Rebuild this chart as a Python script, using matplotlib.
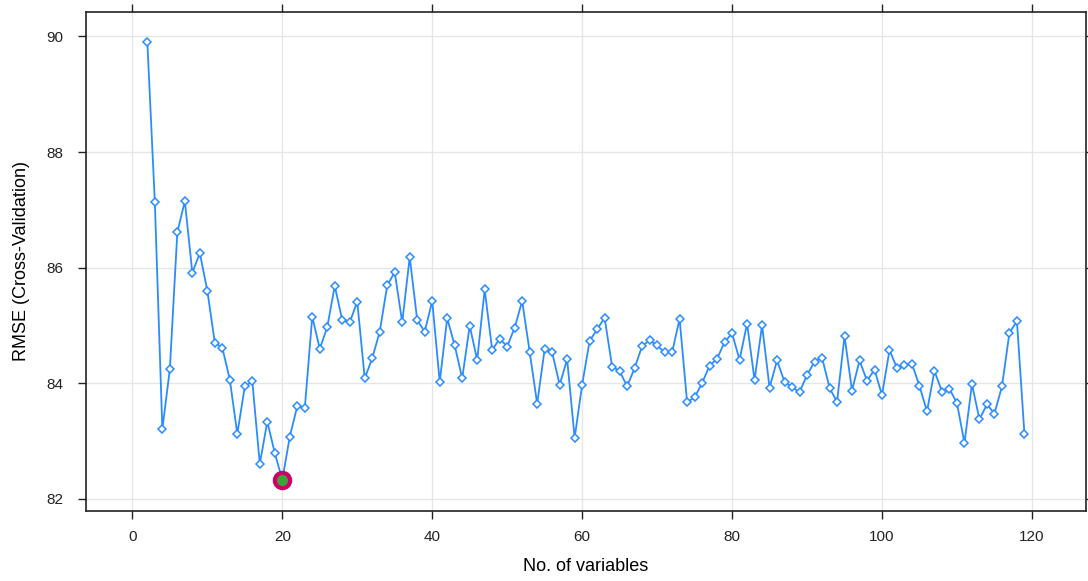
import numpy as np
import matplotlib
matplotlib.use("Agg")
import matplotlib.pyplot as plt

plt.rcParams['font.family'] = ['Liberation Sans', 'DejaVu Sans']

# number of variables and cross-validated RMSE
n_vars = list(range(2, 120))
rmse = [
    89.90, 87.13, 83.20, 84.24, 86.61, 87.15, 85.91, 86.25, 85.60,   # 2-10
    84.70, 84.61, 84.06, 83.12, 83.94, 84.03, 82.60, 83.33, 82.79, 82.32,  # 11-20
    83.07, 83.60, 83.56, 85.15, 84.59, 84.97, 85.68, 85.09, 85.05, 85.41,  # 21-30
    84.08, 84.43, 84.89, 85.69, 85.92, 85.05, 86.18, 85.09, 84.89, 85.42,  # 31-40
    84.02, 85.12, 84.65, 84.08, 84.99, 84.40, 85.62, 84.57, 84.77, 84.63,  # 41-50
    84.96, 85.42, 84.54, 83.64, 84.59, 84.53, 83.97, 84.41, 83.05, 83.97,  # 51-60
    84.73, 84.93, 85.13, 84.28, 84.21, 83.94, 84.26, 84.64, 84.74, 84.65,  # 61-70
    84.53, 84.53, 85.11, 83.67, 83.75, 84.00, 84.30, 84.42, 84.71, 84.86,  # 71-80
    84.40, 85.03, 84.05, 85.00, 83.92, 84.39, 84.02, 83.93, 83.84, 84.14,  # 81-90
    84.37, 84.44, 83.92, 83.67, 84.81, 83.87, 84.39, 84.04, 84.23, 83.79,  # 91-100
    84.57, 84.26, 84.32, 84.33, 83.95, 83.51, 84.21, 83.85, 83.90, 83.65,  # 101-110
    82.96, 83.98, 83.37, 83.63, 83.47, 83.94, 84.87, 85.07, 83.12,         # 111-119
]
x_ticks = [0, 20, 40, 60, 80, 100, 120]
y_ticks = [82, 84, 86, 88, 90]

best = int(np.argmin(rmse))

fig = plt.figure(figsize=(10.88, 5.81), dpi=100)
ax = fig.add_axes([0.079, 0.121, 0.919, 0.859])

ax.plot(n_vars, rmse, color='#2b8cff', lw=1.3, marker='D', ms=4.2,
        mfc='white', mec='#2b8cff', mew=1.1, zorder=3)
ax.plot(n_vars[best], rmse[best], 'o', ms=11, mfc='#3aa63a',
        mec='#cc0066', mew=3, zorder=4)

# lattice-like padding around the data
xr = n_vars[-1] - n_vars[0]
yr = max(rmse) - min(rmse)
ax.set_xlim(n_vars[0] - 0.07 * xr, n_vars[-1] + 0.07 * xr)
ax.set_ylim(min(rmse) - 0.07 * yr, max(rmse) + 0.07 * yr)

ax.set_xticks(x_ticks)
ax.set_yticks(y_ticks)
ax.grid(True, color='#e6e6e6', lw=1)
ax.set_axisbelow(True)
ax.tick_params(axis='both', direction='out', length=6, width=1,
               labelsize=11, colors='#222222', top=True, right=True)
ax.tick_params(axis='x', pad=8)
ax.tick_params(axis='y', pad=10)
for s in ax.spines.values():
    s.set_color('#222222')
    s.set_linewidth(1.2)

ax.set_xlabel('No. of variables', fontsize=13, labelpad=10)
ax.set_ylabel('RMSE (Cross-Validation)', fontsize=13, labelpad=12)

fig.savefig('out.png', dpi=100)
